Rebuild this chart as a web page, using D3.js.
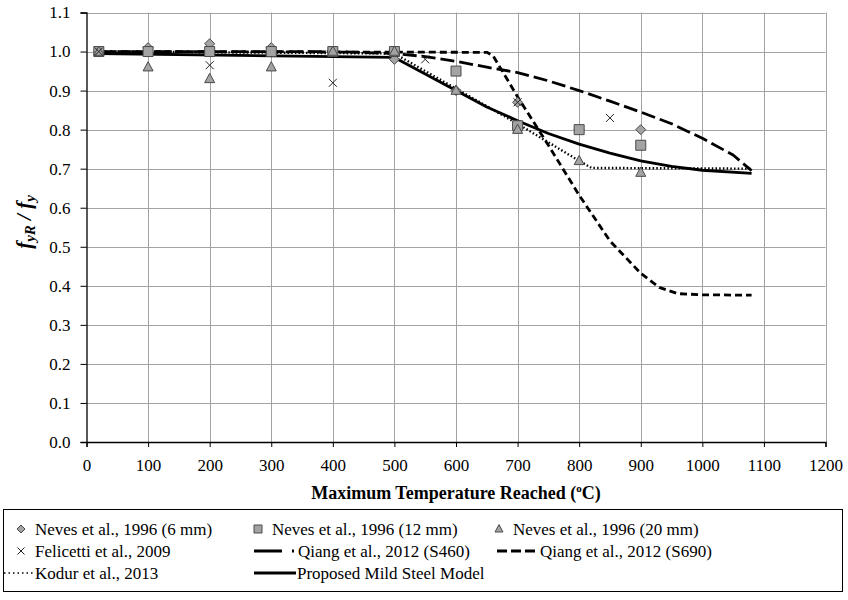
<!DOCTYPE html>
<html>
<head>
<meta charset="utf-8">
<script src="https://cdn.jsdelivr.net/npm/d3@7"></script>
<style>
  html, body { margin: 0; padding: 0; background: #fff; }
  svg { display: block; font-family: "Liberation Serif", "Times New Roman", serif; }
</style>
</head>
<body>
<svg id="chart" width="848" height="600"></svg>
<script>
// Residual yield strength ratio fyR/fy after exposure to a maximum temperature
const xTicks = [0, 100, 200, 300, 400, 500, 600, 700, 800, 900, 1000, 1100, 1200];
const yTicks = [0.0, 0.1, 0.2, 0.3, 0.4, 0.5, 0.6, 0.7, 0.8, 0.9, 1.0, 1.1];

// Test data (temperature °C, fyR/fy)
const neves6 = [[20, 1.0], [100, 1.01], [200, 1.02], [300, 1.01], [400, 1.0], [500, 0.98],
                [600, 0.90], [700, 0.87], [800, 0.80], [900, 0.80]];
const neves12 = [[20, 1.0], [100, 1.0], [200, 1.0], [300, 1.0], [400, 1.0], [500, 1.0],
                 [600, 0.95], [700, 0.81], [800, 0.80], [900, 0.76]];
const neves20 = [[20, 1.0], [100, 0.96], [200, 0.93], [300, 0.96], [400, 1.0], [500, 1.0],
                 [600, 0.90], [700, 0.80], [800, 0.72], [900, 0.69]];
const felicetti = [[20, 1.0], [200, 0.965], [400, 0.92], [550, 0.98], [700, 0.87], [850, 0.83]];

// Model curves
const qiangS460 = [[20, 1.0], [400, 1.0], [500, 0.995], [550, 0.987], [600, 0.975], [650, 0.96],
                   [700, 0.946], [750, 0.925], [800, 0.90], [850, 0.873], [900, 0.845],
                   [950, 0.815], [1000, 0.778], [1050, 0.735], [1080, 0.695]];
const qiangS690 = [[20, 1.0], [650, 0.998], [660, 0.99], [700, 0.884], [750, 0.76], [800, 0.632],
                   [850, 0.515], [900, 0.432], [930, 0.396], [960, 0.38], [1000, 0.377], [1080, 0.376]];
const kodur = [[20, 1.0], [500, 0.995], [600, 0.905], [700, 0.815], [800, 0.72], [820, 0.702],
               [1080, 0.70]];
const proposed = [[20, 0.995], [500, 0.985], [600, 0.90], [650, 0.858], [700, 0.823], [750, 0.79],
                  [800, 0.763], [850, 0.74], [900, 0.72], [950, 0.706], [1000, 0.696], [1080, 0.688]];

const legendLabels = [
  "Neves et al., 1996 (6 mm)", "Neves et al., 1996 (12 mm)", "Neves et al., 1996 (20 mm)",
  "Felicetti et al., 2009", "Qiang et al., 2012 (S460)", "Qiang et al., 2012 (S690)",
  "Kodur et al., 2013", "Proposed Mild Steel Model"
];

const svg = d3.select("#chart");
const plotLeft = 86.5, plotRight = 825.5, plotTop = 12.5, plotBottom = 442;

const x = d3.scaleLinear().domain([0, 1200]).range([plotLeft, plotRight]);
const y = d3.scaleLinear().domain([0, 1.1]).range([plotBottom, plotTop]);

// Gridlines
const grid = svg.append("g").attr("stroke", "#a3a3a3").attr("stroke-width", 1);
grid.selectAll(".gx").data(xTicks.slice(1)).join("line")
  .attr("x1", d => Math.round(x(d)) + 0.5).attr("x2", d => Math.round(x(d)) + 0.5)
  .attr("y1", plotTop).attr("y2", plotBottom);
grid.selectAll(".gy").data(yTicks.slice(1)).join("line")
  .attr("y1", d => Math.round(y(d)) + 0.5).attr("y2", d => Math.round(y(d)) + 0.5)
  .attr("x1", plotLeft).attr("x2", plotRight);

// Axes
const xAxis = svg.append("g").attr("transform", `translate(0,${plotBottom})`)
  .call(d3.axisBottom(x).tickValues(xTicks).tickFormat(d3.format("d")).tickSizeOuter(0).tickSize(5).tickPadding(12));
const yAxis = svg.append("g").attr("transform", `translate(${plotLeft},0)`)
  .call(d3.axisLeft(y).tickValues(yTicks).tickFormat(d3.format(".1f")).tickSizeOuter(0).tickSize(6).tickPadding(10));
[xAxis, yAxis].forEach(a => {
  a.attr("font-family", null);
  a.selectAll("text").attr("font-size", 17).attr("fill", "#000");
  a.selectAll("line").attr("stroke", "#000");
  a.select(".domain").attr("stroke", "#000").attr("stroke-width", 1.3);
});

// Axis titles
const xt = svg.append("text").attr("x", (plotLeft + plotRight) / 2).attr("y", 499)
  .attr("text-anchor", "middle").attr("font-weight", "bold").attr("font-size", 18);
xt.append("tspan").text("Maximum Temperature Reached (");
xt.append("tspan").text("o").attr("font-size", 11).attr("dy", -7);
xt.append("tspan").text("C)").attr("dy", 7);

const yt = svg.append("text").attr("transform", "translate(31,222) rotate(-90)")
  .attr("text-anchor", "middle").attr("font-weight", "bold").attr("font-style", "italic").attr("font-size", 21);
yt.append("tspan").text("f");
yt.append("tspan").text("yR").attr("font-size", 15).attr("dy", 4);
yt.append("tspan").text(" / f").attr("dy", -4);
yt.append("tspan").text("y").attr("font-size", 15).attr("dy", 4);

// Lines
const line = d3.line().x(d => x(d[0])).y(d => y(d[1]));
const lineStyles = [
  { data: qiangS460, dash: "14,5", w: 2.8 },
  { data: qiangS690, dash: "7,4", w: 2.8 },
  { data: kodur, dash: "1.5,2.2", w: 2.4 },
  { data: proposed, dash: null, w: 2.8 }
];
lineStyles.forEach(s => {
  svg.append("path").datum(s.data).attr("d", line).attr("fill", "none")
    .attr("stroke", "#000").attr("stroke-width", s.w).attr("stroke-dasharray", s.dash)
    .attr("stroke-linejoin", "round");
});

// Marker symbols
const sym = {
  diamond: (r) => `M0,${-r}L${r},0L0,${r}L${-r},0Z`,
  square: (r) => `M${-r},${-r}H${r}V${r}H${-r}Z`,
  triangle: (r) => `M0,${-r * 1.1}L${r},${r * 0.75}H${-r}Z`,
  cross: (r) => `M${-r},${-r}L${r},${r}M${r},${-r}L${-r},${r}`
};
function drawMarkers(data, kind, r) {
  const g = svg.append("g");
  g.selectAll("path").data(data).join("path")
    .attr("transform", d => `translate(${x(d[0])},${y(d[1])})`)
    .attr("d", sym[kind](r))
    .attr("fill", kind === "cross" ? "none" : "#a3a3a3")
    .attr("stroke", kind === "cross" ? "#222" : "#4a4a4a")
    .attr("stroke-width", 1);
}
drawMarkers(neves6, "diamond", 5);
drawMarkers(neves12, "square", 5);
drawMarkers(neves20, "triangle", 5);
drawMarkers(felicetti, "cross", 4);

// Legend
svg.append("rect").attr("x", 3.5).attr("y", 509.5).attr("width", 839).attr("height", 82)
  .attr("fill", "#fff").attr("stroke", "#000").attr("stroke-width", 1);
const textX = [35, 272, 513, 35, 298, 540, 35, 297];
const rowY = [529, 551, 573];
const leg = svg.append("g").attr("font-size", 17);
legendLabels.forEach((t, i) => {
  const r = Math.floor(i / 3);
  leg.append("text").attr("x", textX[i]).attr("y", rowY[r]).attr("dy", "0.35em").text(t);
});
function legMarker(kind, cx, cy, rr) {
  leg.append("path").attr("transform", `translate(${cx},${cy})`).attr("d", sym[kind](rr))
    .attr("fill", kind === "cross" ? "none" : "#a3a3a3")
    .attr("stroke", kind === "cross" ? "#222" : "#4a4a4a").attr("stroke-width", 1);
}
legMarker("diamond", 21, rowY[0], 4);
legMarker("square", 258, rowY[0], 4);
legMarker("triangle", 499, rowY[0], 4);
legMarker("cross", 21, rowY[1], 3.5);
function legLine(x1, x2, cy, dash, w) {
  leg.append("line").attr("x1", x1).attr("x2", x2).attr("y1", cy).attr("y2", cy)
    .attr("stroke", "#000").attr("stroke-width", w).attr("stroke-dasharray", dash);
}
legLine(254, 294, rowY[1], "28,10", 2.8);
legLine(497, 538, rowY[1], "10,4", 2.8);
legLine(4, 33, rowY[2], "1.5,3", 1.6);
legLine(254, 296, rowY[2], null, 2.8);
</script>
</body>
</html>
